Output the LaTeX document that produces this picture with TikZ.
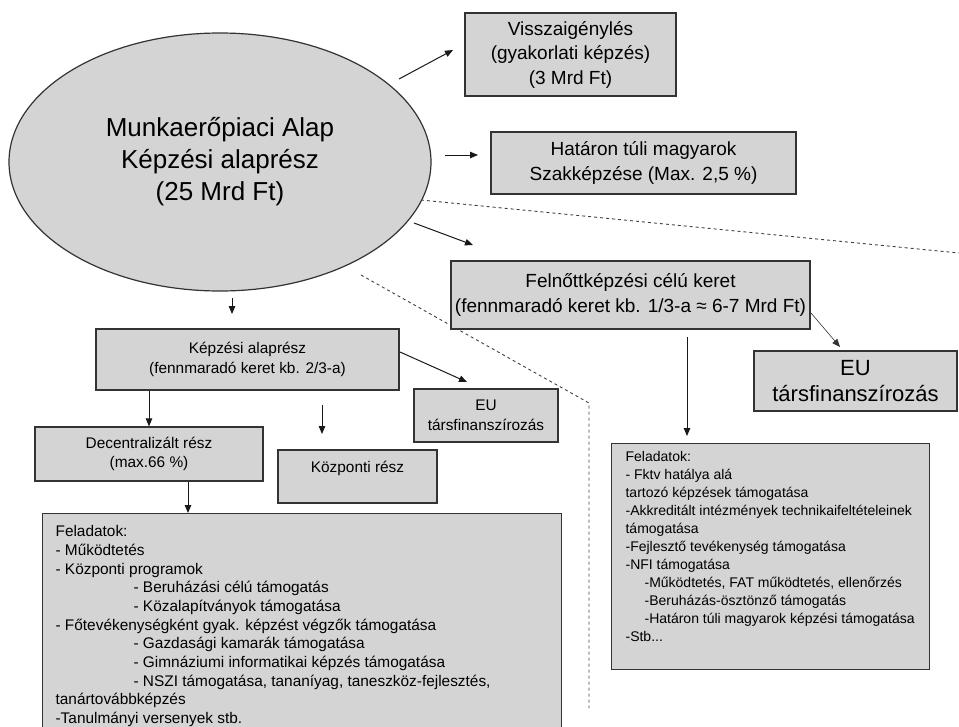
\documentclass[tikz,border=0pt]{standalone}
\usepackage{fontspec}
\setmainfont{Liberation Sans}
\usetikzlibrary{arrows.meta,shapes.geometric}
\definecolor{boxfill}{HTML}{D4D4D4}
\definecolor{boxline}{HTML}{333333}
\tikzset{
  box/.style={draw=boxline, fill=boxfill, line width=1.2pt, rectangle, inner sep=0pt, align=center},
  arr/.style={-{Triangle[length=8pt,width=6.5pt]}, line width=1pt, draw=black!90},
  thinarr/.style={-{Triangle[length=8pt,width=6.5pt]}, line width=0.6pt, draw=black!80},
  dline/.style={dash pattern=on 3pt off 3pt, line width=0.9pt, draw=black!75},
  fbig/.style={font=\fontsize{26pt}{32pt}\selectfont},
  fmid/.style={font=\fontsize{19pt}{24.5pt}\selectfont},
  feu/.style={font=\fontsize{22pt}{26pt}\selectfont},
  fsmall/.style={font=\fontsize{15.4pt}{19.5pt}\selectfont},
}
\begin{document}
\begin{tikzpicture}[x=1pt,y=-1pt]
\useasboundingbox (0,0) rectangle (959,726);
\clip (0,0) rectangle (959,726);

% dashed separators
\coordinate (d1s) at (421,200);
\coordinate (d1e) at (959,253);
\draw[dline] (d1s) -- (d1e);
\coordinate (d2s) at (361,275);
\coordinate (d2m) at (589,403);
\coordinate (d2e) at (589,708);
\draw[dline] (d2s) -- (d2m) -- (d2e);

% main ellipse
\node[ellipse, draw=boxline, fill=boxfill, line width=1.2pt, minimum width=422pt, minimum height=258pt, inner sep=0pt, align=center, fbig]
  (el) at (220,162) {Munkaerőpiaci Alap\\Képzési alaprész\\(25 Mrd Ft)};

% upper right boxes
\node[box, fmid, minimum width=211pt, minimum height=83pt] (vissza) at (570.5,54.5)
  {Visszaigénylés\\(gyakorlati képzés)\\(3 Mrd Ft)};
\node[box, fmid, minimum width=305pt, minimum height=62pt] (hatar) at (643.5,163)
  {Határon túli magyarok\\Szakképzése (Max. 2,5 \%)};
\node[box, fmid, minimum width=359pt, minimum height=68pt] (felnott) at (630.5,295)
  {Felnőttképzési célú keret\\(fennmaradó keret kb. 1/3-a ≈ 6-7 Mrd Ft)};
\node[box, feu, minimum width=203pt, minimum height=60pt] (eur) at (855.5,381)
  {EU\\társfinanszírozás};

% left column boxes
\node[box, fsmall, minimum width=303pt, minimum height=61pt] (kepzesi) at (247.5,359.5)
  {Képzési alaprész\\(fennmaradó keret kb. 2/3-a)};
\node[box, fsmall, minimum width=228pt, minimum height=54pt] (decent) at (149,454)
  {Decentralizált rész\\(max.66 \%)};
\node[box, fsmall, minimum width=159pt, minimum height=53pt] (kozp) at (357.5,476.5)
  {Központi rész\\\mbox{}};
\node[box, fsmall, minimum width=144pt, minimum height=53pt] (eus) at (486,415.5)
  {EU\\társfinanszírozás};

% task boxes
\node[box, anchor=north west, inner xsep=13pt, inner ysep=0pt, align=left,
      font=\fontsize{15.4pt}{18.67pt}\selectfont] (feladL) at (42,513)
  {\begin{minipage}[c][230pt][t]{493pt}\raggedright
   \vspace*{12pt}%
   Feladatok:\\
   - Működtetés\\
   - Központi programok\\
   \hspace*{78pt}- Beruházási célú támogatás\\
   \hspace*{78pt}- Közalapítványok támogatása\\
   - Főtevékenységként gyak. képzést végzők támogatása\\
   \hspace*{78pt}- Gazdasági kamarák támogatása\\
   \hspace*{78pt}- Gimnáziumi informatikai képzés támogatása\\
   \hspace*{78pt}- NSZI támogatása, tananíyag, taneszköz-fejlesztés,\\
   tanártovábbképzés\\
   -Tanulmányi versenyek stb.
   \end{minipage}};
\node[box, anchor=north west, inner xsep=14pt, inner ysep=0pt, align=left,
      font=\fontsize{14pt}{18pt}\selectfont] (feladR) at (611,443)
  {\begin{minipage}[c][226pt][t]{290pt}\raggedright
   \vspace*{8pt}%
   Feladatok:\\
   - Fktv hatálya alá\\
   tartozó képzések támogatása\\
   -Akkreditált intézmények technikaifeltételeinek\\
   támogatása\\
   -Fejlesztő tevékenység támogatása\\
   -NFI támogatása\\
   \hspace*{19pt}-Működtetés, FAT működtetés, ellenőrzés\\
   \hspace*{19pt}-Beruházás-ösztönző támogatás\\
   \hspace*{19pt}-Határon túli magyarok képzési támogatása\\
   -Stb...
   \end{minipage}};

% arrows
\coordinate (a1s) at (399,79);   \coordinate (a1e) at (453,50);
\draw[arr] (a1s) -- (a1e);
\coordinate (a2s) at (445,155);  \coordinate (a2e) at (478,155);
\draw[arr] (a2s) -- (a2e);
\coordinate (a3s) at (414,223);  \coordinate (a3e) at (473,245);
\draw[arr] (a3s) -- (a3e);
\coordinate (a4s) at (232,298);  \coordinate (a4e) at (232,314);
\draw[arr] (a4s) -- (a4e);
\draw[arr] (kepzesi.south -| decent.south) -- (decent.north);
\coordinate (a5s) at (400,352);  \coordinate (a5e) at (467,382);
\draw[arr] (a5s) -- (a5e);
\coordinate (a6s) at (322,405);  \coordinate (a6e) at (322,434);
\draw[arr] (a6s) -- (a6e);
\coordinate (a7e) at (188,513);
\draw[arr] (decent.south -| a7e) -- (a7e);
\coordinate (a8s) at (687,337);  \coordinate (a8e) at (687,436);
\draw[arr] (a8s) -- (a8e);
\coordinate (a9s) at (811,313);  \coordinate (a9e) at (840,347);
\draw[thinarr] (a9s) -- (a9e);
\end{tikzpicture}
\end{document}
